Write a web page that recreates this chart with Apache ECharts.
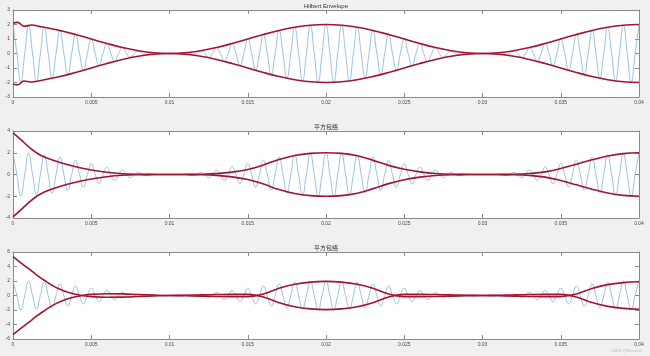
<!DOCTYPE html>
<html><head><meta charset="utf-8">
<script src="https://cdn.jsdelivr.net/npm/echarts@6/dist/echarts.min.js"></script>
<style>html,body{margin:0;padding:0;background:#f0f0f0}#c{width:650px;height:356px}</style>
</head><body><div id="c"></div>
<script>
const titles = ['Hilbert Envelope', '平方包络', '平方包络'];
const xTickLabels = ['0','0.005','0.01','0.015','0.02','0.025','0.03','0.035','0.04'];
const yRanges = [[-3, 3, 1], [-4, 4, 2], [-6, 6, 2]];

// AM signal sampled at quarter carrier periods (t = i * 0.00025 s)
const signalStep = 0.00025;
const signal = [2,0,-1.99,0,1.95,0,-1.89,0,1.81,0,-1.71,0,1.59,0,-1.45,0,1.31,0,-1.16,0,1,0,-0.84,0,0.69,0,-0.55,0,0.41,0,-0.29,0,0.19,0,-0.11,0,0.05,0,-0.01,0,0,0,-0.01,0,0.05,0,-0.11,0,0.19,0,-0.29,0,0.41,0,-0.55,0,0.69,0,-0.84,0,1,0,-1.16,0,1.31,0,-1.45,0,1.59,0,-1.71,0,1.81,0,-1.89,0,1.95,0,-1.99,0,2,
0,-1.99,0,1.95,0,-1.89,0,1.81,0,-1.71,0,1.59,0,-1.45,0,1.31,0,-1.16,0,1,0,-0.84,0,0.69,0,-0.55,0,0.41,0,-0.29,0,0.19,0,-0.11,0,0.05,0,-0.01,0,0,0,-0.01,0,0.05,0,-0.11,0,0.19,0,-0.29,0,0.41,0,-0.55,0,0.69,0,-0.84,0,1,0,-1.16,0,1.31,0,-1.45,0,1.59,0,-1.71,0,1.81,0,-1.89,0,1.95,0,-1.99,0,2];

// Hilbert envelope
const hilbT = [0,0.0003,0.0007,0.0012,0.0017,0.002,0.003,0.004,0.005,0.006,0.007,0.008,0.009,0.01,0.011,0.012,0.013,0.014,0.015,0.016,0.017,0.018,0.019,0.02,0.021,0.022,0.023,0.024,0.025,0.026,0.027,0.028,0.029,0.03,0.031,0.032,0.033,0.034,0.035,0.036,0.037,0.038,0.039,0.04];
const hilbUpper = [2.08,2.15,1.88,1.97,1.87,1.81,1.59,1.31,1.0,0.69,0.41,0.19,0.05,0,0.05,0.19,0.41,0.69,1.0,1.31,1.59,1.81,1.95,2.0,1.95,1.81,1.59,1.31,1.0,0.69,0.41,0.19,0.05,0,0.05,0.19,0.41,0.69,1.0,1.31,1.59,1.81,1.95,2.0];
const hilbLower = [-2.1,-2.16,-1.9,-1.97,-1.88,-1.81,-1.59,-1.31,-1.0,-0.69,-0.41,-0.19,-0.05,0,-0.05,-0.19,-0.41,-0.69,-1.0,-1.31,-1.59,-1.81,-1.95,-2.0,-1.95,-1.81,-1.59,-1.31,-1.0,-0.69,-0.41,-0.19,-0.05,0,-0.05,-0.19,-0.41,-0.69,-1.0,-1.31,-1.59,-1.81,-1.95,-2.0];

// Square-law envelope (subplot 2)
const sq2T = [0,0.0005,0.001,0.0015,0.002,0.003,0.004,0.005,0.006,0.007,0.008,0.009,0.01,0.011,0.012,0.013,0.014,0.015,0.016,0.017,0.018,0.019,0.02,0.021,0.022,0.023,0.024,0.025,0.026,0.027,0.028,0.029,0.03,0.031,0.032,0.033,0.034,0.035,0.036,0.037,0.038,0.039,0.04];
const sq2Upper = [3.82,3.2,2.55,2.0,1.6,1.1,0.72,0.42,0.2,0.07,0.02,0.005,0,0.005,0.02,0.08,0.22,0.46,0.88,1.38,1.75,1.94,2.0,1.94,1.72,1.3,0.84,0.48,0.24,0.09,0.02,0.005,0,0.005,0.02,0.09,0.24,0.55,0.95,1.35,1.7,1.92,2.0];
const sq2Lower = [-3.9,-3.25,-2.58,-2.02,-1.6,-1.1,-0.72,-0.42,-0.2,-0.07,-0.02,-0.005,0,-0.005,-0.02,-0.08,-0.22,-0.46,-0.88,-1.38,-1.75,-1.94,-2.0,-1.94,-1.72,-1.3,-0.84,-0.48,-0.24,-0.09,-0.02,-0.005,0,-0.005,-0.02,-0.09,-0.24,-0.55,-0.95,-1.35,-1.7,-1.92,-2.0];

// Square-law envelope (subplot 3)
const sq3T = [0,0.0005,0.001,0.0015,0.002,0.0025,0.003,0.0035,0.004,0.0045,0.005,0.006,0.007,0.008,0.009,0.01,0.011,0.012,0.013,0.014,0.015,0.016,0.017,0.018,0.019,0.02,0.021,0.022,0.023,0.024,0.025,0.026,0.027,0.028,0.029,0.03,0.031,0.032,0.033,0.034,0.035,0.036,0.037,0.038,0.039,0.04];
const sq3Upper = [5.35,4.5,3.7,2.85,2.1,1.4,0.85,0.45,0.16,-0.04,-0.16,-0.24,-0.22,-0.14,-0.06,0,-0.04,-0.08,-0.13,-0.16,-0.15,0.2,1.0,1.55,1.85,1.95,1.85,1.55,1.0,0.2,-0.15,-0.16,-0.13,-0.08,-0.04,0,-0.04,-0.08,-0.13,-0.16,-0.15,0.2,0.98,1.5,1.78,1.9];
const sq3Lower = [-5.4,-4.55,-3.72,-2.86,-2.1,-1.4,-0.85,-0.45,-0.16,0.04,0.16,0.24,0.22,0.14,0.06,0,0.04,0.08,0.13,0.16,0.15,-0.2,-1.0,-1.55,-1.85,-1.95,-1.85,-1.55,-1.0,-0.2,0.15,0.16,0.13,0.08,0.04,0,0.04,0.08,0.13,0.16,0.15,-0.2,-0.98,-1.5,-1.78,-1.9];

const envelopes = [[hilbT, hilbUpper, hilbLower], [sq2T, sq2Upper, sq2Lower], [sq3T, sq3Upper, sq3Lower]];

const gridTops = [10, 131, 252];
const AX = '#8a8a8a', LBL = '#4a4a4a', BLUE = '#7fb3d8', RED = '#a2142f';
const FONT = 'Liberation Sans, Arial, sans-serif';
const pairs = (t, v) => t.map((x, i) => [x, v[i]]);
const sigData = signal.map((v, i) => [i * signalStep, v]);

const option = {
  animation: false,
  backgroundColor: '#f0f0f0',
  title: titles.map((t, i) => ({
    text: t, left: 326, textAlign: 'center', top: gridTops[i] - 7, padding: 0,
    textStyle: { fontSize: 6, fontWeight: 'normal', color: '#303030', fontFamily: i === 0 ? FONT : 'Noto Sans CJK SC, sans-serif' }
  })),
  grid: gridTops.map(top => ({ left: 13, top, width: 626, height: 87, show: true, backgroundColor: '#ffffff', borderWidth: 0 })),
  xAxis: [],
  yAxis: [],
  series: [],
  graphic: [{ type: 'text', right: 8, bottom: 3, style: { text: 'CSDN @Wenwu2', fontSize: 4, fill: '#c0c0c0', fontFamily: FONT } }]
};

for (let g = 0; g < 3; g++) {
  const common = { type: 'value', gridIndex: g, min: 0, max: 0.04, interval: 0.005,
    axisLine: { show: true, onZero: false, lineStyle: { color: AX, width: 1 } },
    axisTick: { show: true, inside: true, length: 4, lineStyle: { color: AX } },
    splitLine: { show: false } };
  option.xAxis.push(Object.assign({}, common, { position: 'bottom',
    axisLabel: { show: true, fontSize: 5, color: LBL, fontFamily: FONT, margin: 3,
      formatter: v => xTickLabels[Math.round(v / 0.005)] } }));
  option.xAxis.push(Object.assign({}, common, { position: 'top', axisLabel: { show: false } }));
  const [mn, mx, iv] = yRanges[g];
  const ycommon = { type: 'value', gridIndex: g, min: mn, max: mx, interval: iv,
    axisLine: { show: true, onZero: false, lineStyle: { color: AX, width: 1 } },
    axisTick: { show: true, inside: true, length: 4, lineStyle: { color: AX } },
    splitLine: { show: false } };
  option.yAxis.push(Object.assign({}, ycommon, { position: 'left',
    axisLabel: { show: true, fontSize: 5, color: LBL, fontFamily: FONT, margin: 3 } }));
  option.yAxis.push(Object.assign({}, ycommon, { position: 'right', axisLabel: { show: false } }));

  option.series.push({ type: 'line', xAxisIndex: 2 * g, yAxisIndex: 2 * g, data: sigData,
    showSymbol: false, smooth: 0.5, lineStyle: { color: BLUE, width: 0.8 }, z: 2 });
  const [t, up, lo] = envelopes[g];
  [up, lo].forEach(arr => option.series.push({ type: 'line', xAxisIndex: 2 * g, yAxisIndex: 2 * g,
    data: pairs(t, arr), showSymbol: false, smooth: 0.4, lineStyle: { color: RED, width: 1.6 }, z: 3 }));
}

echarts.init(document.getElementById('c')).setOption(option);
</script>
</body></html>
